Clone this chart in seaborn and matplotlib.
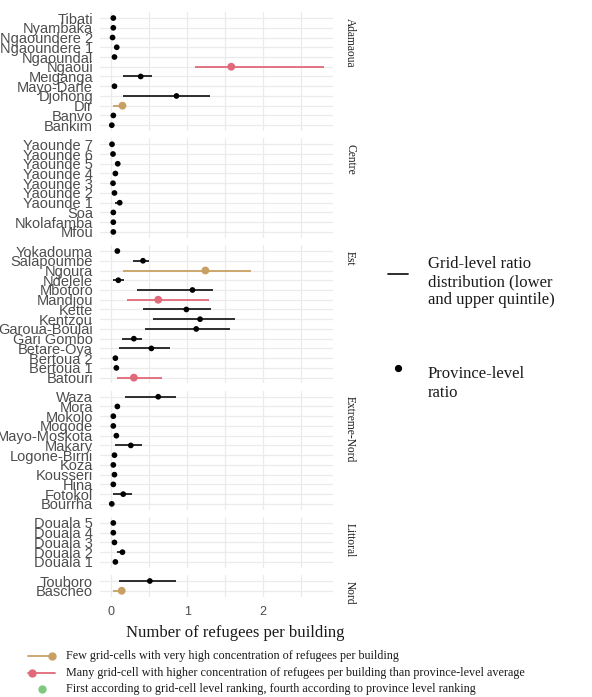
import matplotlib
matplotlib.use("Agg")
import matplotlib.pyplot as plt
from matplotlib.lines import Line2D
import pandas as pd
import seaborn as sns

# ---- data: refugees per building by district (province-level ratio and
#      grid-level lower / upper quintile) ----
provinces = ["Adamaoua", "Centre", "Est", "Extreme-Nord", "Littoral", "Nord"]

province = (["Adamaoua"] * 12 + ["Centre"] * 10 + ["Est"] * 14
            + ["Extreme-Nord"] * 12 + ["Littoral"] * 5 + ["Nord"] * 2)

district = [
    "Tibati", "Nyambaka", "Ngaoundere 2", "Ngaoundere 1", "Ngaoundal", "Ngaoui",
    "Meiganga", "Mayo-Darle", "Djohong", "Dir", "Banvo", "Bankim",
    "Yaounde 7", "Yaounde 6", "Yaounde 5", "Yaounde 4", "Yaounde 3", "Yaounde 2",
    "Yaounde 1", "Soa", "Nkolafamba", "Mfou",
    "Yokadouma", "Salapoumbe", "Ngoura", "Ndelele", "Mbotoro", "Mandjou", "Kette",
    "Kentzou", "Garoua-Boulai", "Gari Gombo", "Betare-Oya", "Bertoua 2",
    "Bertoua 1", "Batouri",
    "Waza", "Mora", "Mokolo", "Mogode", "Mayo-Moskota", "Makary", "Logone-Birni",
    "Koza", "Kousseri", "Hina", "Fotokol", "Bourrha",
    "Douala 5", "Douala 4", "Douala 3", "Douala 2", "Douala 1",
    "Touboro", "Bascheo",
]

ratio = [
    0.03, 0.03, 0.02, 0.075, 0.045, 1.58, 0.39, 0.045, 0.86, 0.15, 0.03, 0.01,
    0.013, 0.026, 0.088, 0.057, 0.026, 0.045, 0.114, 0.03, 0.03, 0.03,
    0.083, 0.42, 1.24, 0.096, 1.07, 0.62, 0.99, 1.17, 1.12, 0.30, 0.53, 0.057,
    0.07, 0.30,
    0.62, 0.083, 0.03, 0.03, 0.07, 0.26, 0.045, 0.03, 0.045, 0.03, 0.16, 0.01,
    0.03, 0.03, 0.045, 0.15, 0.057,
    0.51, 0.14,
]

low = [
    0.01, 0.01, 0.01, 0.05, 0.03, 1.10, 0.16, 0.03, 0.16, 0.03, 0.01, 0.00,
    0.00, 0.01, 0.07, 0.04, 0.01, 0.03, 0.05, 0.01, 0.01, 0.01,
    0.06, 0.29, 0.16, 0.03, 0.34, 0.21, 0.42, 0.55, 0.44, 0.14, 0.11, 0.04,
    0.05, 0.08,
    0.19, 0.05, 0.01, 0.01, 0.05, 0.05, 0.03, 0.01, 0.03, 0.01, 0.02, 0.00,
    0.01, 0.01, 0.03, 0.075, 0.04,
    0.10, 0.02,
]

high = [
    0.05, 0.05, 0.04, 0.09, 0.06, 2.80, 0.54, 0.06, 1.30, 0.17, 0.05, 0.02,
    0.03, 0.04, 0.10, 0.07, 0.04, 0.06, 0.12, 0.05, 0.05, 0.05,
    0.10, 0.50, 1.84, 0.175, 1.34, 1.29, 1.31, 1.63, 1.57, 0.41, 0.77, 0.07,
    0.08, 0.67,
    0.86, 0.12, 0.05, 0.05, 0.08, 0.41, 0.06, 0.05, 0.06, 0.05, 0.28, 0.02,
    0.05, 0.05, 0.06, 0.17, 0.07,
    0.86, 0.15,
]

# "few": few grid-cells with very high concentration
# "many": many grid-cells above the province-level average
group = ["base"] * 55
for name in ["Dir", "Ngoura", "Bascheo"]:
    group[district.index(name)] = "few"
for name in ["Ngaoui", "Mandjou", "Batouri"]:
    group[district.index(name)] = "many"

legend_labels = [
    "Few grid-cells with very high concentration of refugees per building",
    "Many grid-cell with higher concentration of refugees per building than province-level average",
    "First according to grid-cell level ranking, fourth according to province level ranking",
]

x_ticks = [0, 1, 2]
x_minor = [0.5, 1.5, 2.5]

df = pd.DataFrame({"province": province, "district": district, "ratio": ratio,
                   "low": low, "high": high, "group": group})

# ---- styling ----
sns.set_theme(style="white")
plt.rcParams["font.family"] = ["Liberation Sans", "DejaVu Sans"]
SERIF = ["Liberation Serif", "DejaVu Serif"]

palette = {"base": "#000000", "few": "#C9A063", "many": "#E0697A"}
line_col = {"base": "#1E1E1E", "few": "#C9A063", "many": "#E0697A"}
sizes = {"base": 17, "few": 32, "many": 32}
green = "#7FC97F"
tick_col = "#4D4D4D"
grid_col = "#EBEBEB"

W, H = 592, 697
fig = plt.figure(figsize=(W / 100, H / 100), dpi=100)


def px_axes(left, top, width, height):
    return fig.add_axes([left / W, 1 - (top + height) / H, width / W, height / H])


pitch = 9.74
gap = 7.4
top = 12.2
panel_left, panel_w = 100, 233.3

for k, prov in enumerate(provinces):
    sub = df[df.province == prov].reset_index(drop=True)
    n = len(sub)
    sub["pos"] = n - 1 - sub.index
    h = (n - 1 + 1.2) * pitch
    ax = px_axes(panel_left, top, panel_w, h)

    ax.set_xlim(-0.145, 2.921)
    ax.set_ylim(-0.6, n - 1 + 0.6)
    ax.set_xticks(x_ticks)
    ax.set_xticks(x_minor, minor=True)
    ax.set_yticks(sub["pos"])
    ax.set_yticklabels(sub["district"], fontsize=10.5, color=tick_col)
    ax.grid(which="major", color=grid_col, lw=0.9)
    ax.grid(which="minor", axis="x", color=grid_col, lw=0.9)
    ax.set_axisbelow(True)
    for s in ax.spines.values():
        s.set_visible(False)
    ax.tick_params(axis="y", length=0, pad=5)
    ax.tick_params(axis="x", which="both", length=0, pad=7)
    if k == len(provinces) - 1:
        ax.set_xticklabels([str(t) for t in x_ticks], fontsize=9, color=tick_col)
    else:
        ax.set_xticklabels([])

    # grid-level quintile range
    for g, d in sub.groupby("group"):
        ax.hlines(d["pos"], d["low"], d["high"], color=line_col[g], lw=1.3, zorder=2)
    # province-level ratio
    sns.scatterplot(data=sub, x="ratio", y="pos", hue="group", size="group",
                    palette=palette, sizes=sizes, linewidth=0, legend=False,
                    ax=ax, zorder=3)
    ax.set_xlabel("")
    ax.set_ylabel("")

    # facet strip label
    fig.text(350 / W, 1 - (top + 5.5) / H, prov, rotation=270, ha="center",
             va="top", family=SERIF, fontsize=8.3, color="#1A1A1A")

    top += h + gap

fig.text(235 / W, 1 - 633 / H, "Number of refugees per building", ha="center",
         va="center", family=SERIF, fontsize=12, color="#1A1A1A")

# ---- right-hand legend ----
fig.add_artist(Line2D([388 / W, 408 / W], [1 - 274 / H] * 2, color="#1E1E1E", lw=1.3))
fig.text(427.5 / W, 1 - 282 / H, "Grid-level ratio\ndistribution (lower\nand upper quintile)",
         ha="left", va="center", family=SERIF, fontsize=12, color="#1A1A1A",
         linespacing=1.2)
fig.add_artist(Line2D([398 / W], [1 - 368 / H], marker="o", ms=4.2, color="#000000", lw=0))
fig.text(427.5 / W, 1 - 383.5 / H, "Province-level\nratio", ha="left", va="center",
         family=SERIF, fontsize=12, color="#1A1A1A", linespacing=1.2)

# ---- bottom legend ----
rows_y = [656, 673.3, 689.3]
fig.add_artist(Line2D([28 / W, 53 / W], [1 - rows_y[0] / H] * 2, color=palette["few"], lw=1.3))
fig.add_artist(Line2D([52 / W], [1 - rows_y[0] / H], marker="o", ms=5, color=palette["few"], lw=0))
fig.add_artist(Line2D([28 / W, 55 / W], [1 - rows_y[1] / H] * 2, color=palette["many"], lw=1.3))
fig.add_artist(Line2D([32 / W], [1 - rows_y[1] / H], marker="o", ms=5, color=palette["many"], lw=0))
fig.add_artist(Line2D([42 / W], [1 - rows_y[2] / H], marker="o", ms=5, color=green, lw=0))
for yy, lab in zip(rows_y, legend_labels):
    fig.text(65.7 / W, 1 - yy / H, lab, ha="left", va="center", family=SERIF,
             fontsize=8.7, color="#1A1A1A")

fig.savefig("out.png", dpi=100, facecolor="white")
